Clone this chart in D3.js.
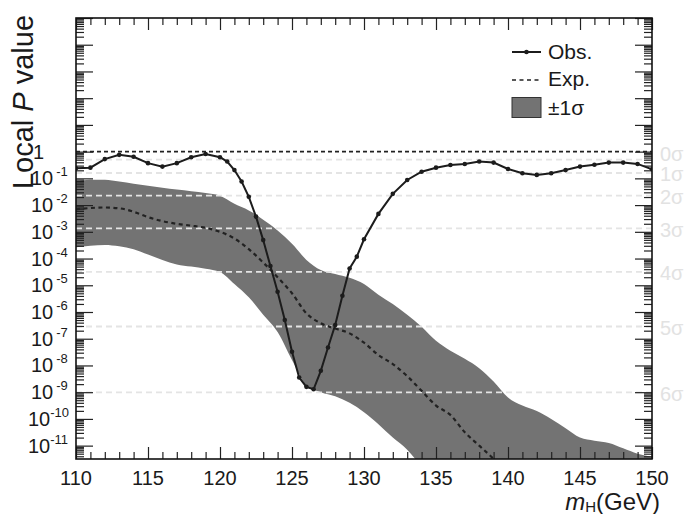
<!DOCTYPE html>
<html>
<head>
<meta charset="utf-8">
<script src="https://cdn.jsdelivr.net/npm/d3@7"></script>
<style>
  html, body { margin: 0; padding: 0; background: #fff; }
  svg { display: block; font-family: "Liberation Sans", Arial, Helvetica, sans-serif; }
</style>
</head>
<body>
<svg id="chart" width="686" height="514"></svg>
<script>
// Observed local p-value scan (log10 p) versus Higgs mass hypothesis
const obsMass = [110, 111, 112, 113, 114, 115, 116, 117, 118, 119, 120,
  120.5, 121, 121.5, 122, 122.5, 123, 123.5, 124, 124.5, 125, 125.5, 126, 126.5,
  127, 127.5, 128, 128.5, 129, 129.5, 130,
  131, 132, 133, 134, 135, 136, 137, 138, 139, 140, 141, 142, 143, 144, 145,
  146, 147, 148, 149, 150];
const obsLog10 = [-0.62, -0.60, -0.28, -0.12, -0.19, -0.43, -0.56, -0.43, -0.21, -0.09, -0.21,
  -0.37, -0.69, -1.12, -1.69, -2.43, -3.31, -4.28, -5.24, -6.30, -7.49, -8.45, -8.80, -8.89,
  -8.20, -7.33, -6.49, -5.39, -4.37, -3.93, -3.28,
  -2.33, -1.58, -1.06, -0.75, -0.60, -0.50, -0.46, -0.37, -0.41, -0.65, -0.81, -0.87, -0.81, -0.69, -0.56,
  -0.49, -0.41, -0.41, -0.46, -0.66];

// Expected p-value and its ±1σ band (log10 p), 1 GeV steps
const expMass = d3.range(110, 151, 1);
const expLog10 = [-2.16, -2.11, -2.09, -2.12, -2.25, -2.45, -2.60, -2.70, -2.77, -2.85, -3.00,
  -3.25, -3.65, -4.15, -4.70, -5.30, -6.05, -6.42, -6.62, -6.80, -7.15,
  -7.61, -7.95, -8.40, -8.95, -9.50, -9.85, -10.50, -11.00, -11.50, -12.10,
  -12.6, -13.1, -13.6, -14.1, -14.6, -15.1, -15.6, -16.1, -16.6, -17.1];
const bandHiLog10 = [-1.12, -1.05, -1.05, -1.12, -1.20, -1.28, -1.35, -1.42, -1.48, -1.55, -1.65,
  -1.95, -2.20, -2.55, -2.95, -3.45, -4.05, -4.43, -4.58, -4.72, -4.95,
  -5.35, -5.70, -6.10, -6.55, -7.08, -7.45, -7.75, -8.10, -8.60, -9.20,
  -9.50, -9.70, -10.00, -10.35, -10.70, -10.82, -10.90, -11.10, -11.30, -11.42];
const bandLoLog10 = [-3.58, -3.52, -3.49, -3.54, -3.65, -3.85, -4.05, -4.22, -4.30, -4.38, -4.50,
  -4.95, -5.45, -6.10, -6.75, -7.80, -8.75, -9.00, -9.15, -9.40, -9.75,
  -10.20, -10.70, -11.15, -11.80, -12.50, -13.0, -13.5, -14.0, -14.0, -14.0,
  -14.0, -14.0, -14.0, -14.0, -14.0, -14.0, -14.0, -14.0, -14.0, -14.0];

// Significance reference levels (one-sided local p-values)
const sigmaLabels = ["0σ", "1σ", "2σ", "3σ", "4σ", "5σ", "6σ"];
const sigmaP = [0.5, 0.1587, 0.02275, 0.00135, 3.167e-5, 2.867e-7, 9.866e-10];

const xTicks = [110, 115, 120, 125, 130, 135, 140, 145, 150];
const yExponents = [0, -1, -2, -3, -4, -5, -6, -7, -8, -9, -10, -11];

const svg = d3.select("#chart");
const L = 76, R = 652, T = 18, B = 459;

const x = d3.scaleLinear().domain([110, 150]).range([L, R]);
const y = d3.scaleLog().domain([Math.pow(10, -11.5), 1e5]).range([B, T]);

svg.append("defs").append("clipPath").attr("id", "plotclip")
  .append("rect").attr("x", L).attr("y", T).attr("width", R - L).attr("height", B - T);

const plot = svg.append("g").attr("clip-path", "url(#plotclip)");

// ±1σ band
const bandData = expMass.map((m, i) => ({ m, hi: 10 ** bandHiLog10[i], lo: 10 ** bandLoLog10[i] }));
plot.append("path")
  .datum(bandData)
  .attr("fill", "#737373")
  .attr("d", d3.area().x(d => x(d.m)).y0(d => y(d.lo)).y1(d => y(d.hi)).curve(d3.curveMonotoneX));

// sigma reference lines
plot.selectAll("line.sig")
  .data(sigmaP)
  .join("line")
  .attr("class", "sig")
  .attr("x1", L).attr("x2", R)
  .attr("y1", d => y(d)).attr("y2", d => y(d))
  .attr("stroke", "#e4e4e4")
  .attr("stroke-width", 1.8)
  .attr("stroke-dasharray", "6,4");

// p = 1 reference
plot.append("line")
  .attr("x1", L).attr("x2", R).attr("y1", y(1)).attr("y2", y(1))
  .attr("stroke", "#222").attr("stroke-width", 1.7).attr("stroke-dasharray", "4,3");

// expected curve
const expData = expMass.map((m, i) => ({ m, p: 10 ** expLog10[i] }));
plot.append("path")
  .datum(expData)
  .attr("fill", "none")
  .attr("stroke", "#222")
  .attr("stroke-width", 2.2)
  .attr("stroke-dasharray", "4,3.5")
  .attr("d", d3.line().x(d => x(d.m)).y(d => y(d.p)).curve(d3.curveMonotoneX));

// observed curve with markers
const obsData = obsMass.map((m, i) => ({ m, p: 10 ** obsLog10[i] }));
plot.append("path")
  .datum(obsData)
  .attr("fill", "none")
  .attr("stroke", "#1c1c1c")
  .attr("stroke-width", 2)
  .attr("d", d3.line().x(d => x(d.m)).y(d => y(d.p)));
plot.selectAll("circle.obs")
  .data(obsData)
  .join("circle")
  .attr("class", "obs")
  .attr("cx", d => x(d.m)).attr("cy", d => y(d.p))
  .attr("r", 2.3)
  .attr("fill", "#1c1c1c");

// ---- axes: ticks point inward on all four sides ----
const majorY = d3.range(-11, 6).map(e => Math.pow(10, e));
const minorY = [];
d3.range(-12, 5).forEach(e => {
  for (let k = 2; k <= 9; k++) {
    const v = k * Math.pow(10, e);
    if (v >= y.domain()[0] && v <= y.domain()[1]) minorY.push(v);
  }
});
const minorX = d3.range(110, 151, 1).filter(v => v % 5 !== 0);

const axisStyle = g => {
  g.select(".domain").remove();
  g.selectAll(".tick line").attr("stroke", "#222").attr("stroke-width", 1.2);
};

svg.append("g").attr("transform", `translate(${L},0)`)
  .call(d3.axisRight(y).tickValues(majorY).tickSize(17).tickFormat(""))
  .call(axisStyle);
svg.append("g").attr("transform", `translate(${L},0)`)
  .call(d3.axisRight(y).tickValues(minorY).tickSize(8).tickFormat(""))
  .call(axisStyle);
svg.append("g").attr("transform", `translate(${R},0)`)
  .call(d3.axisLeft(y).tickValues(majorY).tickSize(17).tickFormat(""))
  .call(axisStyle);
svg.append("g").attr("transform", `translate(${R},0)`)
  .call(d3.axisLeft(y).tickValues(minorY).tickSize(8).tickFormat(""))
  .call(axisStyle);

svg.append("g").attr("transform", `translate(0,${B})`)
  .call(d3.axisTop(x).tickValues(xTicks).tickSize(12).tickFormat(""))
  .call(axisStyle);
svg.append("g").attr("transform", `translate(0,${B})`)
  .call(d3.axisTop(x).tickValues(minorX).tickSize(7).tickFormat(""))
  .call(axisStyle);
svg.append("g").attr("transform", `translate(0,${T})`)
  .call(d3.axisBottom(x).tickValues(xTicks).tickSize(12).tickFormat(""))
  .call(axisStyle);
svg.append("g").attr("transform", `translate(0,${T})`)
  .call(d3.axisBottom(x).tickValues(minorX).tickSize(7).tickFormat(""))
  .call(axisStyle);

// frame
svg.append("rect")
  .attr("x", L).attr("y", T).attr("width", R - L).attr("height", B - T)
  .attr("fill", "none").attr("stroke", "#111").attr("stroke-width", 1.6);

// x tick labels
svg.selectAll("text.xl")
  .data(xTicks)
  .join("text")
  .attr("class", "xl")
  .attr("x", d => x(d)).attr("y", 485)
  .attr("text-anchor", "middle")
  .attr("font-size", 20)
  .attr("fill", "#1a1a1a")
  .text(d => d);

// y tick labels: 1, 10^-1 ... 10^-11
yExponents.forEach(e => {
  const yy = y(Math.pow(10, e));
  if (e === 0) {
    svg.append("text").attr("x", 33).attr("y", yy + 7)
      .attr("font-size", 20).attr("fill", "#1a1a1a").text("1");
    return;
  }
  const two = e <= -10;
  const t = svg.append("text").attr("x", two ? 28 : 31).attr("y", yy + 7)
    .attr("font-size", 20).attr("fill", "#1a1a1a");
  t.append("tspan").text("10");
  t.append("tspan").attr("dx", two ? 0 : 3).attr("dy", -9)
    .attr("font-size", 13).text(String(e));
});

// sigma labels on the right
svg.selectAll("text.sl")
  .data(sigmaP)
  .join("text")
  .attr("class", "sl")
  .attr("x", 660)
  .attr("y", (d, i) => y(d) + (i === 0 ? -4 : 3))
  .attr("dominant-baseline", "middle")
  .attr("font-size", 20)
  .attr("fill", "#e2e2e2")
  .text((d, i) => sigmaLabels[i]);

// axis titles
const yt = svg.append("text")
  .attr("transform", "translate(33,102) rotate(-90)")
  .attr("text-anchor", "middle")
  .attr("font-size", 29)
  .attr("fill", "#1a1a1a");
yt.append("tspan").text("Local ");
yt.append("tspan").attr("font-style", "italic").text("P");
yt.append("tspan").text(" value");

const xt = svg.append("text")
  .attr("x", 660).attr("y", 510)
  .attr("text-anchor", "end")
  .attr("font-size", 24)
  .attr("fill", "#1a1a1a");
xt.append("tspan").attr("font-style", "italic").text("m");
xt.append("tspan").attr("font-size", 15).attr("dy", 2).text("H");
xt.append("tspan").attr("dy", -2).text("(GeV)");

// legend
const lg = svg.append("g");
const lx0 = 512, lx1 = 541, tx = 548;
lg.append("line").attr("x1", lx0).attr("x2", lx1).attr("y1", 52).attr("y2", 52)
  .attr("stroke", "#1c1c1c").attr("stroke-width", 2);
lg.append("circle").attr("cx", (lx0 + lx1) / 2).attr("cy", 52).attr("r", 2.3).attr("fill", "#1c1c1c");
lg.append("text").attr("x", tx).attr("y", 59).attr("font-size", 21).attr("fill", "#1a1a1a").text("Obs.");
lg.append("line").attr("x1", lx0).attr("x2", lx1).attr("y1", 80).attr("y2", 80)
  .attr("stroke", "#222").attr("stroke-width", 1.6).attr("stroke-dasharray", "4,3.5");
lg.append("text").attr("x", tx).attr("y", 86).attr("font-size", 21).attr("fill", "#1a1a1a").text("Exp.");
lg.append("rect").attr("x", lx0).attr("y", 97.5).attr("width", lx1 - lx0).attr("height", 20)
  .attr("fill", "#737373").attr("stroke", "#333").attr("stroke-width", 1);
lg.append("text").attr("x", tx).attr("y", 115).attr("font-size", 21).attr("fill", "#1a1a1a").text("±1σ");
</script>
</body>
</html>
